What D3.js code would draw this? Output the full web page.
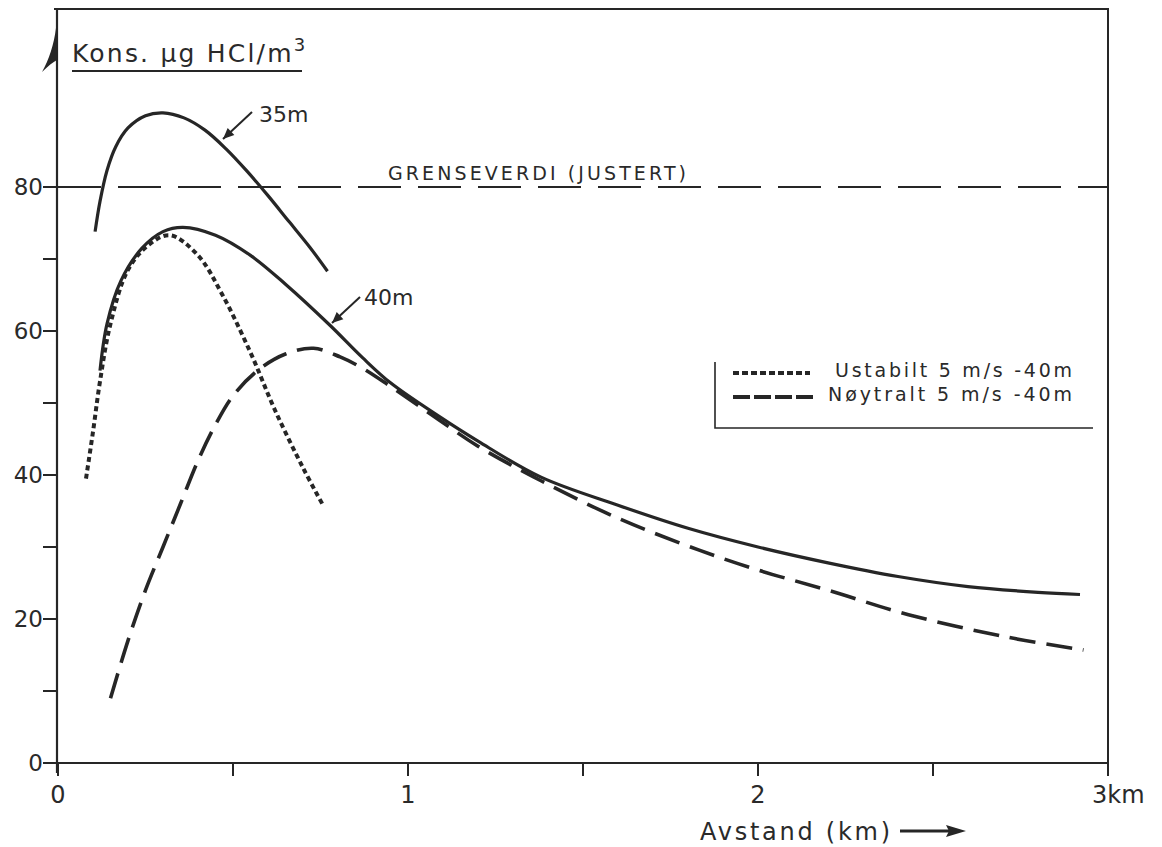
<!DOCTYPE html>
<html>
<head>
<meta charset="utf-8">
<script src="https://cdn.jsdelivr.net/npm/d3@7"></script>
<style>
  body { margin: 0; background: #fff; }
  text { fill: #2a2a2a; font-family: "DejaVu Sans", sans-serif; }
</style>
</head>
<body>
<div id="chart"></div>
<script>
// distance (km) and concentration (ug HCl/m3)
const curve35x = [0.106, 0.12, 0.14, 0.165, 0.20, 0.25, 0.30, 0.36, 0.42, 0.48, 0.54, 0.60, 0.66, 0.72, 0.77];
const curve35y = [73.8, 78, 82.3, 85.6, 88.2, 89.9, 90.3, 89.6, 87.9, 85.3, 82.2, 78.8, 75.2, 71.6, 68.3];

const curve40x = [0.12, 0.14, 0.18, 0.24, 0.30, 0.357, 0.45, 0.55, 0.65, 0.777, 0.87, 0.95, 1.09, 1.2, 1.38, 1.6, 1.8, 2.0, 2.2, 2.4, 2.6, 2.8, 2.92];
const curve40y = [54.5, 61, 67, 71.5, 73.8, 74.4, 73.3, 70.5, 66.5, 60.8, 56.3, 52.8, 48.1, 44.7, 39.7, 35.8, 32.6, 30, 27.8, 25.9, 24.5, 23.7, 23.4];

const ustabilX = [0.08, 0.10, 0.12, 0.15, 0.20, 0.26, 0.32, 0.40, 0.47, 0.55, 0.62, 0.70, 0.755];
const ustabilY = [39.5, 46, 53, 61, 68.5, 72, 73.3, 70.5, 65, 57, 49, 41, 36];

const noytralX = [0.15, 0.20, 0.25, 0.30, 0.35, 0.40, 0.45, 0.50, 0.57, 0.65, 0.73, 0.806, 0.871, 0.95, 1.09, 1.2, 1.38, 1.6, 1.83, 2.0, 2.2, 2.43, 2.71, 2.93];
const noytralY = [9, 17, 24, 30, 36, 42, 47, 51, 54.5, 56.8, 57.6, 56.4, 54.8, 52.3, 47.6, 44, 39.2, 34, 29.6, 26.8, 24, 20.6, 17.5, 15.7];

const grenseverdi = 80;
const yMajorTicks = [0, 20, 40, 60, 80];
const yMinorTicks = [10, 30, 50, 70];
const xMajorTicks = [0, 1, 2, 3];
const xMinorTicks = [0.5, 1.5, 2.5];
const legendLabels = ["Ustabilt 5 m/s -40m", "Nøytralt 5 m/s -40m"];

const width = 1162, height = 847;
const plotLeft = 58, plotRight = 1108, plotTop = 9, plotBottom = 763;

const x = d3.scaleLinear().domain([0, 3]).range([plotLeft, plotRight]);
const y = d3.scaleLinear().domain([0, 20]).range([plotBottom, plotBottom - 144]);

const svg = d3.select("#chart").append("svg")
    .attr("width", width)
    .attr("height", height);

const ink = "#262626";

// frame: top and right sides
svg.append("path")
    .attr("d", `M${plotLeft - 4},${plotTop}H${plotRight}V${plotBottom}`)
    .attr("fill", "none").attr("stroke", ink).attr("stroke-width", 2);

// y axis with hand-drawn arrow head
svg.append("line")
    .attr("x1", plotLeft - 1).attr("x2", plotLeft - 1).attr("y1", plotBottom + 10).attr("y2", plotTop)
    .attr("stroke", ink).attr("stroke-width", 2.2);
svg.append("path")
    .attr("d", `M${plotLeft - 2},28 C${plotLeft - 4},44 ${plotLeft - 9},60 ${plotLeft - 16},72 C${plotLeft - 10},66 ${plotLeft - 5},62 ${plotLeft - 1},60 Z`)
    .attr("fill", ink);

// x axis
svg.append("line")
    .attr("x1", plotLeft - 4).attr("x2", plotRight).attr("y1", plotBottom).attr("y2", plotBottom)
    .attr("stroke", ink).attr("stroke-width", 2.2);

// ticks
svg.selectAll(".ytick").data(yMajorTicks.concat(yMinorTicks)).enter().append("line")
    .attr("x1", plotLeft - 15).attr("x2", plotLeft).attr("y1", d => y(d)).attr("y2", d => y(d))
    .attr("stroke", ink).attr("stroke-width", 2);
svg.selectAll(".xtick").data(xMajorTicks.concat(xMinorTicks)).enter().append("line")
    .attr("x1", d => x(d)).attr("x2", d => x(d)).attr("y1", plotBottom).attr("y2", plotBottom + 13)
    .attr("stroke", ink).attr("stroke-width", 2);

// tick labels
svg.selectAll(".ylab").data(yMajorTicks).enter().append("text")
    .attr("x", plotLeft - 15).attr("y", d => y(d) + 8)
    .attr("text-anchor", "end").attr("font-size", 23)
    .text(d => d);
svg.selectAll(".xlab").data(xMajorTicks).enter().append("text")
    .attr("x", d => d === 3 ? 1092 : x(d)).attr("y", plotBottom + 40)
    .attr("text-anchor", d => d === 3 ? "start" : "middle")
    .attr("font-size", 24)
    .text(d => d === 3 ? "3km" : d);

// axis titles
const title = svg.append("text")
    .attr("x", 72).attr("y", 62).attr("font-size", 25)
    .attr("letter-spacing", 2.2)
    .text("Kons. µg HCl/m");
title.append("tspan").attr("dy", -11).attr("font-size", 18).text("3");
svg.append("line")
    .attr("x1", 72).attr("x2", 302).attr("y1", 71).attr("y2", 71)
    .attr("stroke", ink).attr("stroke-width", 2);

svg.append("text")
    .attr("x", 700).attr("y", 840).attr("font-size", 24)
    .attr("textLength", 190).attr("lengthAdjust", "spacing")
    .text("Avstand (km)");
svg.append("path")
    .attr("d", "M900,831H952")
    .attr("stroke", ink).attr("stroke-width", 3);
svg.append("path")
    .attr("d", "M966,831L946,825L949,831L946,837Z")
    .attr("fill", ink);

// limit value
svg.append("line")
    .attr("x1", plotLeft).attr("x2", plotRight).attr("y1", y(grenseverdi)).attr("y2", y(grenseverdi))
    .attr("stroke", ink).attr("stroke-width", 2)
    .attr("stroke-dasharray", "43,17");
svg.append("text")
    .attr("x", 388).attr("y", 180).attr("font-size", 19)
    .attr("textLength", 298).attr("lengthAdjust", "spacing")
    .text("GRENSEVERDI (JUSTERT)");

// curves
const line = d3.line().x(d => x(d[0])).y(d => y(d[1])).curve(d3.curveCatmullRom.alpha(0.5));

const series = [
    { xs: curve35x, ys: curve35y, width: 3.2, dash: null },
    { xs: curve40x, ys: curve40y, width: 3.2, dash: null },
    { xs: ustabilX, ys: ustabilY, width: 4, dash: "5,3.5" },
    { xs: noytralX, ys: noytralY, width: 3.6, dash: "26,11" }
];
series.forEach(s => {
    svg.append("path")
        .datum(d3.zip(s.xs, s.ys))
        .attr("d", line)
        .attr("fill", "none")
        .attr("stroke", ink)
        .attr("stroke-width", s.width)
        .attr("stroke-dasharray", s.dash);
});

// curve labels with arrows
function labelArrow(tx, ty, label, x1, y1, x2, y2) {
    svg.append("text").attr("x", tx).attr("y", ty).attr("font-size", 22).text(label);
    svg.append("line").attr("x1", x1).attr("y1", y1).attr("x2", x2).attr("y2", y2)
        .attr("stroke", ink).attr("stroke-width", 2);
    const a = Math.atan2(y2 - y1, x2 - x1);
    const L = 12, w = 0.42;
    svg.append("path")
        .attr("d", `M${x2},${y2}L${x2 - L * Math.cos(a - w)},${y2 - L * Math.sin(a - w)}L${x2 - L * Math.cos(a + w)},${y2 - L * Math.sin(a + w)}Z`)
        .attr("fill", ink);
}
labelArrow(259, 122, "35m", 252, 112, 223, 139);
labelArrow(364, 305, "40m", 360, 297, 332, 323);

// legend
svg.append("path")
    .attr("d", "M715,362V428H1093")
    .attr("fill", "none").attr("stroke", ink).attr("stroke-width", 1.6);
const legendStyles = [
    { dash: "6,3", width: 4, x2: 810 },
    { dash: "17,4", width: 4, x2: 815 }
];
const legendTextX = [835, 828];
legendLabels.forEach((lab, i) => {
    const ly = 373 + i * 24;
    svg.append("line")
        .attr("x1", 733).attr("x2", legendStyles[i].x2).attr("y1", ly).attr("y2", ly)
        .attr("stroke", ink).attr("stroke-width", legendStyles[i].width)
        .attr("stroke-dasharray", legendStyles[i].dash);
    svg.append("text")
        .attr("x", legendTextX[i]).attr("y", ly + 4).attr("font-size", 19)
        .attr("textLength", 1072 - legendTextX[i]).attr("lengthAdjust", "spacing")
        .text(lab);
});
</script>
</body>
</html>
